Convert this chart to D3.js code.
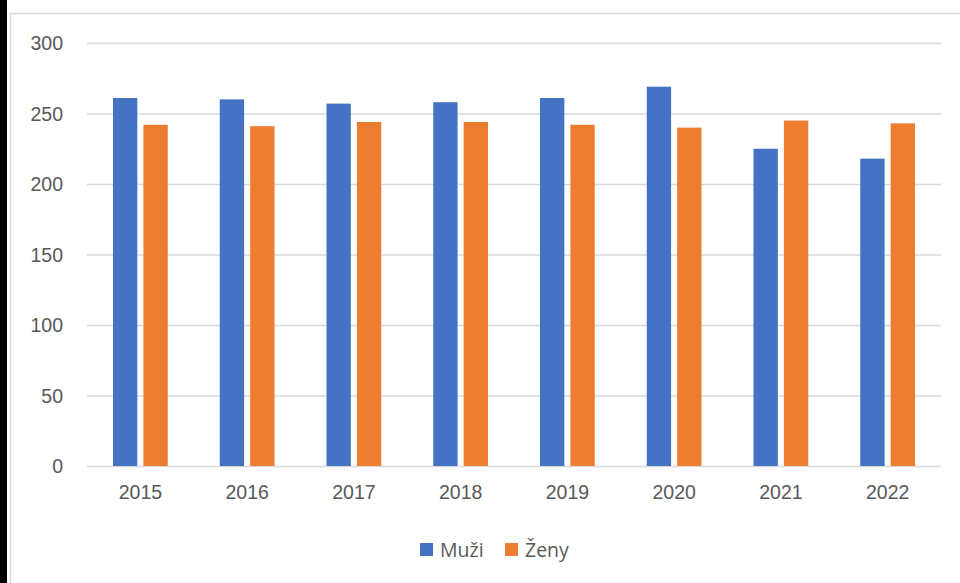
<!DOCTYPE html>
<html>
<head>
<meta charset="utf-8">
<script src="https://cdn.jsdelivr.net/npm/d3@7"></script>
<style>
  body { margin: 0; background: #fff; }
  svg { display: block; font-family: "Open Sans", "Liberation Sans", sans-serif; }
  .tick text { fill: #595959; font-size: 19.5px; }
</style>
</head>
<body>
<svg id="chart" width="960" height="583"></svg>
<script>
var years = ['2015', '2016', '2017', '2018', '2019', '2020', '2021', '2022'];
var muzi = [261, 260, 257, 258, 261, 269, 225, 218];
var zeny = [242, 241, 244, 244, 242, 240, 245, 243];
var seriesNames = ['Muži', 'Ženy'];
var colors = ['#4472c4', '#ed7d31'];
var yTicks = [0, 50, 100, 150, 200, 250, 300];

var margin = {top: 43, right: 19, bottom: 117, left: 87},
  width = 960 - margin.left - margin.right,
  height = 583 - margin.top - margin.bottom;

var svg = d3.select('#chart');

// left black strip and chart-area border like the screenshot
svg.append('rect').attr('x', 0).attr('y', 0).attr('width', 7).attr('height', 583).attr('fill', '#000');
svg.append('rect').attr('x', 10.5).attr('y', 13.5).attr('width', 960).attr('height', 600)
  .attr('fill', 'none').attr('stroke', '#d9d9d9').attr('stroke-width', 1.5);

var g = svg.append('g').attr('transform', `translate(${margin.left},${margin.top})`);

var x = d3.scaleBand().domain(years).range([0, width]).paddingInner(0).paddingOuter(0);
var x1 = d3.scaleBand().domain(seriesNames).range([26, x.bandwidth() - 26]).paddingInner(0.2);
var y = d3.scaleLinear().domain([0, 300]).range([height, 0]);

// gridlines
g.selectAll('.grid').data(yTicks).enter().append('line')
  .attr('x1', 0).attr('x2', width)
  .attr('y1', d => y(d) + 0.5).attr('y2', d => y(d) + 0.5)
  .attr('stroke', '#d9d9d9').attr('stroke-width', 1.5);

var rows = years.map((yr, i) => ({year: yr, values: [muzi[i], zeny[i]]}));

var grp = g.selectAll('.yr').data(rows).enter().append('g')
  .attr('transform', d => 'translate(' + x(d.year) + ',0)');

grp.selectAll('rect').data(d => d.values.map((v, j) => ({name: seriesNames[j], value: v, c: colors[j]})))
  .enter().append('rect')
  .attr('x', d => x1(d.name))
  .attr('width', x1.bandwidth())
  .attr('y', d => y(d.value))
  .attr('height', d => y(0) - y(d.value))
  .attr('fill', d => d.c);

var yAxis = d3.axisLeft(y).tickValues(yTicks).tickSize(0).tickPadding(24);
g.append('g').call(yAxis).call(a => a.select('.domain').remove())
  .selectAll('text').attr('dy', '0.35em');

var xAxis = d3.axisBottom(x).tickSize(0).tickPadding(19);
g.append('g').attr('transform', `translate(0,${height})`).call(xAxis)
  .call(a => a.select('.domain').remove());

// legend
var legend = svg.append('g').attr('transform', 'translate(420,543)');
var items = legend.selectAll('g').data(seriesNames).enter().append('g')
  .attr('transform', (d, i) => 'translate(' + (i * 85) + ',0)');
items.append('rect').attr('width', 13).attr('height', 13).attr('fill', (d, i) => colors[i]);
items.append('text').attr('x', 20).attr('y', 7).attr('dy', '0.35em')
  .attr('fill', '#595959').style('font-size', '19.5px').text(d => d);
</script>
</body>
</html>
